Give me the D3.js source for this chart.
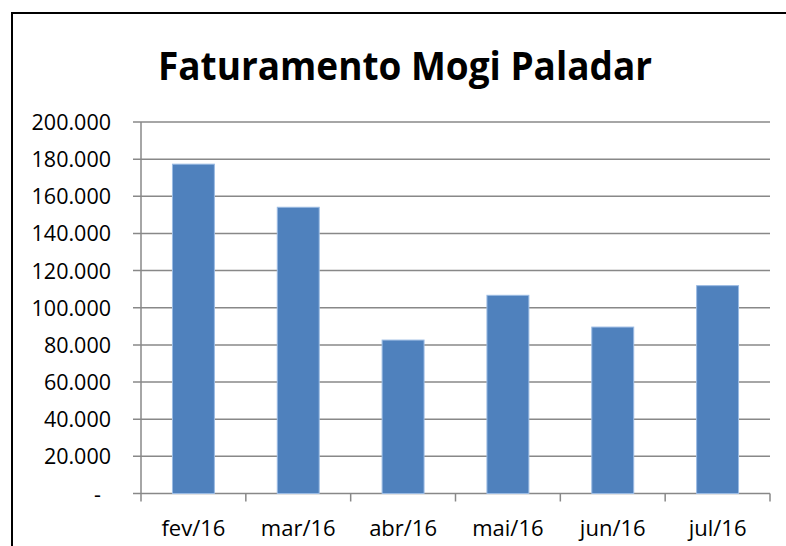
<!DOCTYPE html>
<html>
<head>
<meta charset="utf-8">
<script src="https://cdn.jsdelivr.net/npm/d3@7"></script>
<style>
  body { margin: 0; background: #fff; }
  svg { display: block; font-family: "Open Sans", "Liberation Sans", sans-serif; }
</style>
</head>
<body>
<div id="chart"></div>
<script>
// chart values
const months = ["fev/16", "mar/16", "abr/16", "mai/16", "jun/16", "jul/16"];
const revenue = [177300, 154100, 82600, 106700, 89600, 111900];
const yTicks = [0, 20000, 40000, 60000, 80000, 100000, 120000, 140000, 160000, 180000, 200000];
const title = "Faturamento Mogi Paladar";

const W = 786, H = 546;
const margin = { top: 122, right: 16, bottom: 52.5, left: 141 };

const svg = d3.select("#chart")
  .append("svg")
  .attr("width", W)
  .attr("height", H);

// outer frame (right/bottom edges sit outside the window)
svg.append("rect")
  .attr("x", 12).attr("y", 13)
  .attr("width", W + 10).attr("height", H + 10)
  .attr("fill", "none")
  .attr("stroke", "#000")
  .attr("stroke-width", 2);

const x = d3.scaleBand()
  .domain(months)
  .range([margin.left, W - margin.right])
  .paddingInner(0.6)
  .paddingOuter(0.3);

const xEdge = d3.scaleLinear()
  .domain([0, months.length])
  .range([margin.left, W - margin.right]);

const y = d3.scaleLinear()
  .domain([0, 200000])
  .range([H - margin.bottom, margin.top]);

const fmt = v => v === 0 ? "-" : d3.format(",")(v).replace(/,/g, ".");

// gridlines
svg.append("g")
  .selectAll("line")
  .data(yTicks)
  .join("line")
  .attr("x1", margin.left - 8)
  .attr("x2", W - margin.right)
  .attr("y1", d => y(d))
  .attr("y2", d => y(d))
  .attr("stroke", "#888")
  .attr("stroke-width", 1.5);

// y axis line
svg.append("line")
  .attr("x1", margin.left).attr("x2", margin.left)
  .attr("y1", y(200000)).attr("y2", y(0))
  .attr("stroke", "#888")
  .attr("stroke-width", 1.5);

// x ticks at category boundaries
svg.append("g")
  .selectAll("line")
  .data(d3.range(months.length + 1))
  .join("line")
  .attr("x1", d => xEdge(d))
  .attr("x2", d => xEdge(d))
  .attr("y1", y(0))
  .attr("y2", y(0) + 8)
  .attr("stroke", "#888")
  .attr("stroke-width", 1.5);

// bars
svg.append("g")
  .selectAll("rect")
  .data(months.map((m, i) => ({ m, v: revenue[i] })))
  .join("rect")
  .attr("x", d => x(d.m))
  .attr("y", d => y(d.v))
  .attr("width", x.bandwidth())
  .attr("height", d => y(0) - y(d.v))
  .attr("fill", "#4F81BD")
  .attr("stroke", "#9bbbe3")
  .attr("stroke-width", 1);

// y labels
svg.append("g")
  .selectAll("text")
  .data(yTicks)
  .join("text")
  .attr("x", d => d === 0 ? 101 : 111)
  .attr("y", d => y(d) + 8)
  .attr("text-anchor", "end")
  .attr("font-size", 21.5)
  .attr("fill", "#000")
  .text(fmt);

// x labels
svg.append("g")
  .selectAll("text")
  .data(months)
  .join("text")
  .attr("x", d => x(d) + x.bandwidth() / 2)
  .attr("y", 536)
  .attr("text-anchor", "middle")
  .attr("font-size", 22)
  .attr("fill", "#000")
  .text(d => d);

// title
svg.append("text")
  .attr("x", 405)
  .attr("y", 80)
  .attr("text-anchor", "middle")
  .attr("font-size", 40)
  .attr("font-weight", "bold")
  .attr("textLength", 494)
  .attr("lengthAdjust", "spacingAndGlyphs")
  .text(title);
</script>
</body>
</html>
